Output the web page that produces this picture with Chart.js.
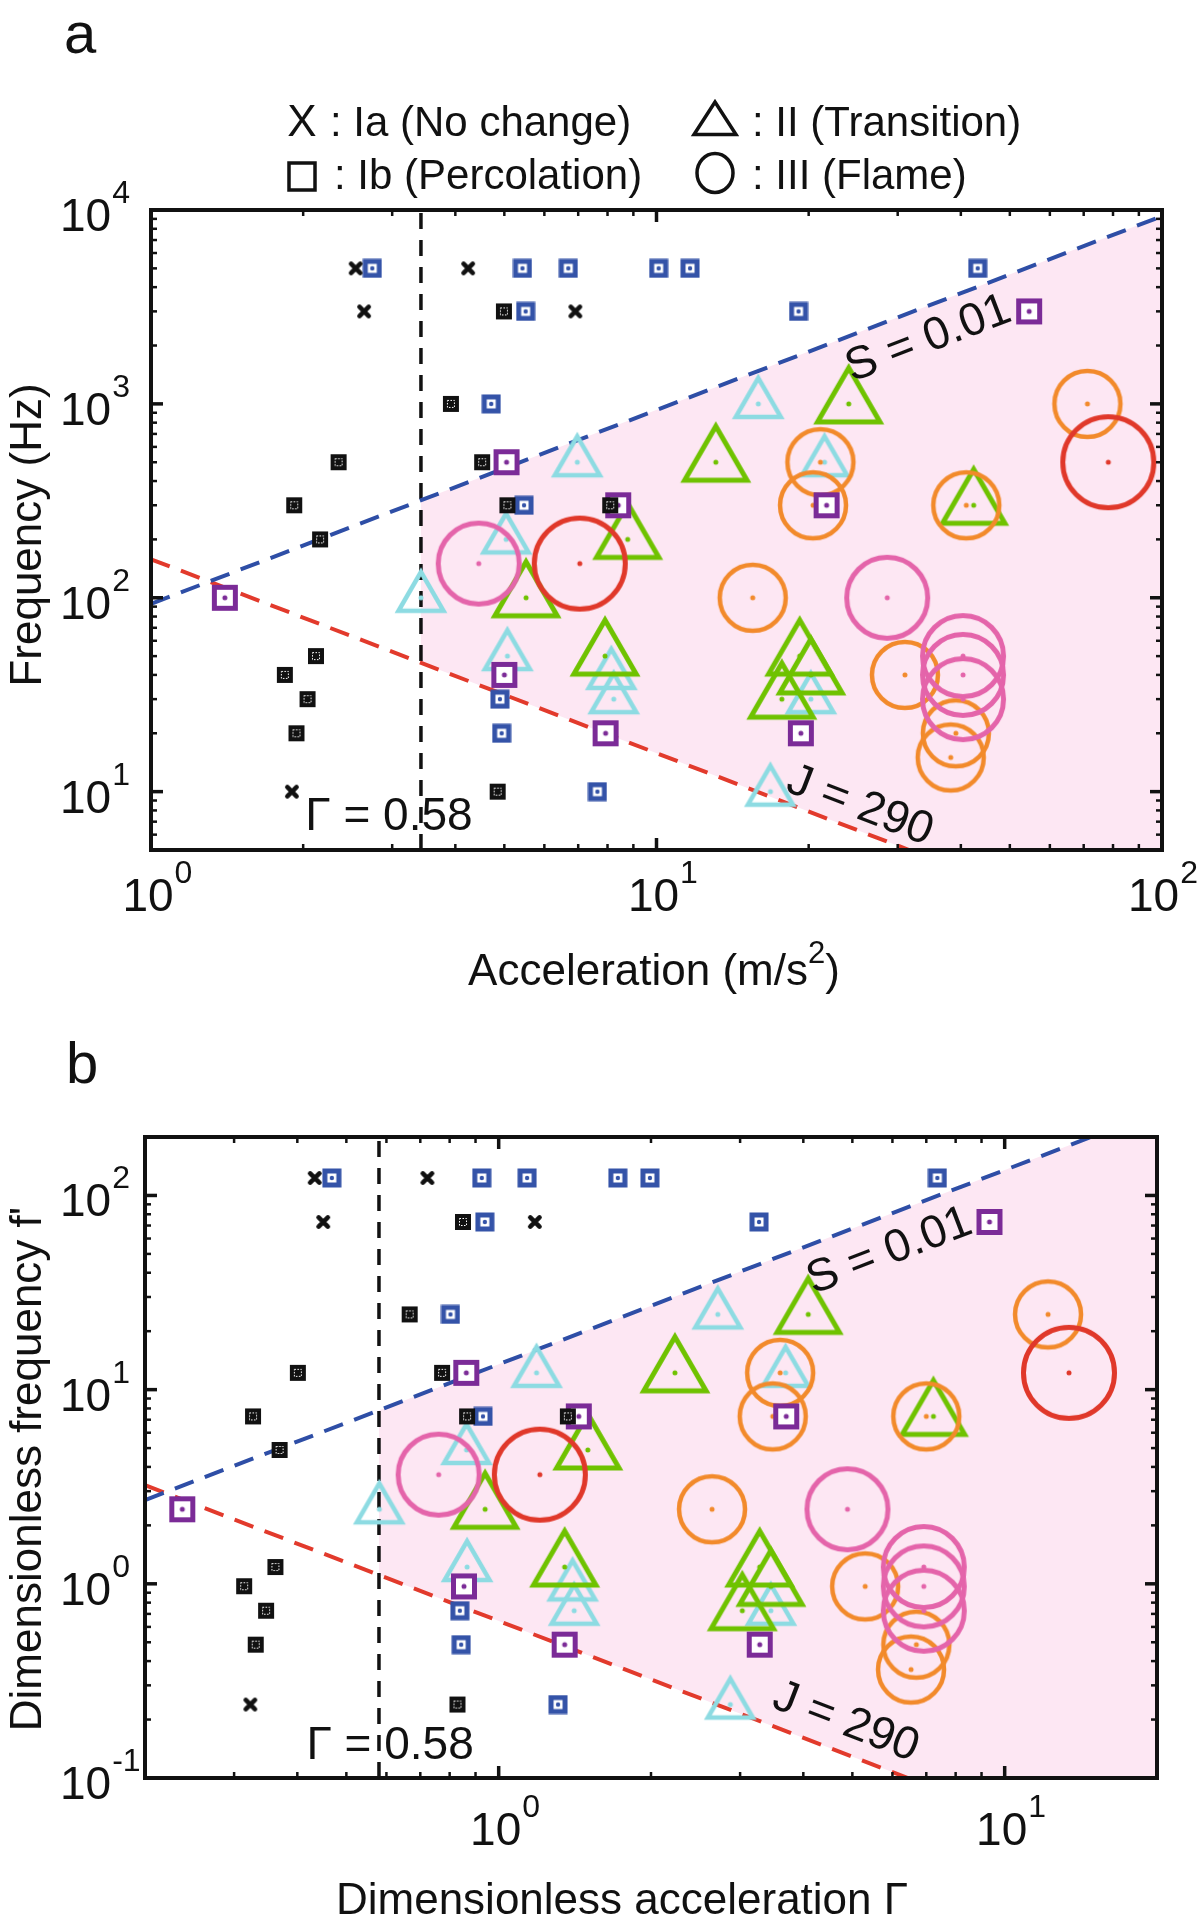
<!DOCTYPE html>
<html><head><meta charset="utf-8">
<script src="https://cdn.jsdelivr.net/npm/chart.js@4/dist/chart.umd.min.js"></script>
<style>
html,body{margin:0;padding:0;background:#fff;}
#wrap{position:relative;width:1200px;height:1928px;background:#fff;overflow:hidden;}
canvas{position:absolute;left:0;}
</style></head><body>
<div id="wrap">
<canvas id="ca" width="1200" height="1010" style="top:0px"></canvas>
<canvas id="cb" width="1200" height="964" style="top:964px"></canvas>
</div>
<script>
// ================= DATA =================
// Panel a : Acceleration (m/s^2) vs Frequency (Hz)
const aXRange = [1, 100];
const aYRange = [5, 10000];
const aXTickExp = [0, 1, 2];
const aYTickExp = [1, 2, 3, 4];
const aIa       = [[2.54,5000],[4.24,5000],[2.64,3000],[6.91,3000],[1.90,10]];
const aIbBlack  = [[4.99,3000],[3.92,1000],[2.35,500],[4.52,500],[1.92,300],[5.07,300],[8.1,300],[2.16,200],[2.12,50],[1.84,40],[2.04,30],[1.94,20],[4.85,10]];
const aIbBlue   = [[2.74,5000],[5.43,5000],[6.69,5000],[10.1,5000],[11.65,5000],[43.2,5000],[5.51,3000],[19.1,3000],[4.71,1000],[5.47,300],[4.9,30],[4.94,20],[7.64,10]];
const aIbPurple = [[54.6,3000],[5.05,500],[8.4,300],[21.7,300],[1.40,100],[5.0,40],[7.93,20],[19.3,20]];
const aIICyan   = [[15.9,1000],[6.97,500],[21.5,500],[5.04,200],[3.42,100],[5.07,50],[8.14,40],[8.23,30],[20.2,30],[16.8,10]];
const aIIGreen  = [[24.0,1000],[13.1,500],[42.4,300],[8.77,200],[5.52,100],[7.91,50],[19.2,50],[20.2,40],[17.7,30]];
const aIIIOrange= [[71.2,1000],[21.1,500],[20.4,300],[41.0,300],[15.5,100],[31.0,40],[39.1,20],[38.2,15]];
const aIIIPink  = [[4.45,150],[28.6,100],[40.4,50],[40.4,40],[40.4,30]];
const aIIIRed   = [[78.3,500],[7.05,150]];
const aSLine = [[1,93],[100,9300]];     // S = 0.01
const aJLine = [[1,158],[31.6,5]];      // J = 290
const aGamma = 3.42;                    // Γ = 0.58

// Panel b : Dimensionless acceleration Γ vs dimensionless frequency f'
const bXRange = [0.2, 20];
const bYRange = [0.1, 200];
const bXTickExp = [0, 1];
const bYTickExp = [-1, 0, 1, 2];
const bIa       = [[0.433,123],[0.723,123],[0.450,73],[1.179,73],[0.323,0.239]];
const bIbBlack  = [[0.850,73],[0.667,24.4],[0.401,12.2],[0.773,12.2],[0.327,7.28],[0.866,7.28],[1.37,7.28],[0.369,4.89],[0.362,1.22],[0.314,0.972],[0.347,0.727],[0.331,0.486],[0.829,0.239]];
const bIbBlue   = [[0.468,123],[0.926,123],[1.138,123],[1.72,123],[1.99,123],[7.36,123],[0.939,73],[3.27,73],[0.803,24.4],[0.931,7.28],[0.838,0.727],[0.843,0.486],[1.31,0.239]];
const bIbPurple = [[9.33,73],[0.863,12.2],[1.44,7.28],[3.70,7.28],[0.237,2.42],[0.854,0.97],[1.35,0.486],[3.28,0.486]];
const bIICyan   = [[2.71,24.4],[1.188,12.2],[3.69,12.2],[0.864,4.89],[0.581,2.42],[0.866,1.22],[1.40,0.97],[1.41,0.727],[3.45,0.727],[2.87,0.239]];
const bIIGreen  = [[4.09,24.4],[2.23,12.2],[7.23,7.28],[1.50,4.89],[0.94,2.42],[1.35,1.22],[3.28,1.22],[3.45,0.97],[3.03,0.727]];
const bIIIOrange= [[12.18,24.4],[3.60,12.2],[3.48,7.28],[7.0,7.28],[2.64,2.42],[5.30,0.97],[6.69,0.486],[6.53,0.362]];
const bIIIPink  = [[0.761,3.65],[4.89,2.42],[6.92,1.22],[6.92,0.97],[6.92,0.727]];
const bIIIRed   = [[13.4,12.2],[1.206,3.65]];
const bSLine = [[0.2,2.7],[14.8,200]];
const bJLine = [[0.2,3.22],[6.44,0.1]];
const bGamma = 0.58;

// Texts
const legendSymbols = ['X', 'Δ', '□', '○'];
const legendLabels = [': Ia (No change)', ': II (Transition)', ': Ib (Percolation)', ': III (Flame)'];
const noteTexts = ['S = 0.01', 'J = 290', 'Γ = 0.58'];
const aXTitle = [['Acceleration (m/s',0],['2',1],[')',0]];
const aYTitle = 'Frequency (Hz)';
const bXTitle = [['Dimensionless acceleration Γ',0]];
const bYTitle = "Dimensionless frequency f'";

// ================= STYLE / LAYOUT =================
const F = '"Liberation Sans", Arial, Helvetica, sans-serif';
const COL = {black:'#111111', blue:'#3453a8', purple:'#7b2b97', cyan:'#8ddbe2', green:'#6fc200',
  orange:'#f28a2b', pink:'#e464aa', red:'#e0382a', sLine:'#2e4ea6', jLine:'#e23a2c', fill:'#fde7f3'};
const TICKFONT = 46, SUPFONT = 32;

function mk(size, draw){ const c=document.createElement('canvas'); c.width=size; c.height=size; const g=c.getContext('2d'); draw(g,size/2); return c; }
function dot(g,c,color,r){ g.fillStyle=color; g.beginPath(); g.arc(c,c,r||2.5,0,Math.PI*2); g.fill(); }
function triMarker(color,r,lw){ const s=2*Math.ceil(r+lw+3); return mk(s,(g,c)=>{ g.strokeStyle=color; g.lineWidth=lw; g.lineJoin='miter'; g.beginPath(); for(let k=0;k<3;k++){ const an=-Math.PI/2+k*2*Math.PI/3; const px=c+r*Math.cos(an), py=c+r*Math.sin(an); if(k) g.lineTo(px,py); else g.moveTo(px,py);} g.closePath(); g.stroke(); dot(g,c,color); }); }
function circMarker(color,r,lw){ const s=2*Math.ceil(r+lw+2); return mk(s,(g,c)=>{ g.strokeStyle=color; g.lineWidth=lw; g.beginPath(); g.arc(c,c,r,0,Math.PI*2); g.stroke(); dot(g,c,color); }); }
const MK = {
  x: mk(20,(g,c)=>{ g.strokeStyle=COL.black; g.lineWidth=4.6; g.lineCap='round'; g.beginPath(); g.moveTo(c-4.6,c-4.6); g.lineTo(c+4.6,c+4.6); g.moveTo(c+4.6,c-4.6); g.lineTo(c-4.6,c+4.6); g.stroke(); }),
  sqBlack: mk(18,(g,c)=>{ g.fillStyle=COL.black; g.fillRect(c-8,c-8,16,16); g.strokeStyle='#fff'; g.lineWidth=1; g.setLineDash([1.5,1.5]); g.strokeRect(c-3.5,c-3.5,7,7); }),
  sqBlue: mk(20,(g,c)=>{ g.fillStyle=COL.blue; g.fillRect(c-9.5,c-9.5,19,19); g.fillStyle='#fff'; g.fillRect(c-4.5,c-4.5,9,9); dot(g,c,COL.blue,2.2); }),
  sqPurple: mk(30,(g,c)=>{ g.fillStyle='#fff'; g.fillRect(c-11,c-11,22,22); g.strokeStyle=COL.purple; g.lineWidth=5; g.strokeRect(c-10.5,c-10.5,21,21); dot(g,c,COL.purple,2.5); }),
  triCyan: triMarker(COL.cyan,26,4.5),
  triGreen: triMarker(COL.green,36,5),
  cOrange: circMarker(COL.orange,33,4.5),
  cPink: circMarker(COL.pink,40.5,5),
  cRed: circMarker(COL.red,45.5,5)
};

const layoutA = { pad:{left:151,right:38,top:210,bottom:160}, letter:['a',64,53], xTitlePos:[654,985], yTitlePos:[41,535],
  xLabelDy:61, yLabelX:60,
  legendSym:[[302,136],[715,136],[302,176],[715,173]], legendText:[[330,136],[752,136],[334,189],[752,189]],
  notes:[[24.4,1298],[17.9,10.1],[2.02,6.37]] };
const layoutB = { pad:{left:145,right:43,top:173,bottom:150}, letter:['b',66,119], xTitlePos:[622,950], yTitlePos:[41,505],
  xLabelDy:67, yLabelX:60, legendSym:null, legendText:null,
  notes:[[4.19,31.0],[3.44,0.232],[0.417,0.125]] };

// ================= HELPERS =================
function lineAt(line, x){ const [[x0,y0],[x1,y1]] = line; const t=(Math.log10(x)-Math.log10(x0))/(Math.log10(x1)-Math.log10(x0)); return Math.pow(10, Math.log10(y0)+t*(Math.log10(y1)-Math.log10(y0))); }
function lineXAt(line, y){ const [[x0,y0],[x1,y1]] = line; const t=(Math.log10(y)-Math.log10(y0))/(Math.log10(y1)-Math.log10(y0)); return Math.pow(10, Math.log10(x0)+t*(Math.log10(x1)-Math.log10(x0))); }
function fillPolygon(sLine,jLine,g,xr,yr){
  const pts=[[g,lineAt(jLine,g)],[g,lineAt(sLine,g)]];
  if (lineAt(sLine,xr[1])>yr[1]) { pts.push([lineXAt(sLine,yr[1]),yr[1]]); pts.push([xr[1],yr[1]]); }
  else pts.push([xr[1],lineAt(sLine,xr[1])]);
  pts.push([xr[1],yr[0]]);
  pts.push([lineXAt(jLine,yr[0]),yr[0]]);
  return pts;
}
const toXY = arr => arr.map(([x,y])=>({x,y}));

function buildPanel(canvasId, P, L){
  const sTopY = Math.min(P.yr[1], lineAt(P.s,P.xr[1]));
  const datasets = [
    {type:'line', data:toXY(fillPolygon(P.s,P.j,P.g,P.xr,P.yr)), fill:'shape', backgroundColor:COL.fill, borderWidth:0, pointRadius:0, order:100},
    {type:'line', data:toXY([[P.g,P.yr[0]],[P.g,P.yr[1]]]), fill:false, borderColor:COL.black, borderWidth:3.5, borderDash:[16,11], pointRadius:0, order:90},
    {type:'line', data:toXY([P.s[0],[lineXAt(P.s,sTopY), sTopY]]), fill:false, borderColor:COL.sLine, borderWidth:4, borderDash:[20,12], pointRadius:0, order:80},
    {type:'line', data:toXY(P.j), fill:false, borderColor:COL.jLine, borderWidth:4, borderDash:[20,12], pointRadius:0, order:80},
  ];
  const ms = [
    [P.cyan,MK.triCyan,60],[P.green,MK.triGreen,55],[P.orange,MK.cOrange,50],[P.pink,MK.cPink,45],[P.red,MK.cRed,40],
    [P.purple,MK.sqPurple,30],[P.blue,MK.sqBlue,25],[P.black,MK.sqBlack,20],[P.ia,MK.x,10]
  ];
  for (const [arr,img,ord] of ms) datasets.push({type:'scatter', data:toXY(arr), pointStyle:img, pointRadius:6, showLine:false, clip:false, order:ord});

  const deco = {
    id:'deco',
    afterDatasetsDraw(chart){
      const ctx=chart.ctx, xs=chart.scales.x, ys=chart.scales.y;
      const ang = line => Math.atan2(ys.getPixelForValue(line[1][1])-ys.getPixelForValue(line[0][1]), xs.getPixelForValue(line[1][0])-xs.getPixelForValue(line[0][0]));
      const angles=[ang(P.s), ang(P.j), 0];
      ctx.save(); ctx.fillStyle=COL.black; ctx.font='46px '+F; ctx.textAlign='left'; ctx.textBaseline='alphabetic';
      noteTexts.forEach((t,i)=>{ const [vx,vy]=L.notes[i]; ctx.save(); ctx.translate(xs.getPixelForValue(vx), ys.getPixelForValue(vy)); ctx.rotate(angles[i]); ctx.fillText(t,0,0); ctx.restore(); });
      ctx.restore();
    },
    afterDraw(chart){
      const ctx=chart.ctx, a=chart.chartArea, xs=chart.scales.x, ys=chart.scales.y;
      ctx.save(); ctx.strokeStyle=COL.black; ctx.lineCap='butt';
      const seg=(x1,y1,x2,y2)=>{ctx.beginPath();ctx.moveTo(x1,y1);ctx.lineTo(x2,y2);ctx.stroke();};
      const ticks=(lo,hi)=>{const out=[]; for(let e=Math.floor(Math.log10(lo)); e<=Math.ceil(Math.log10(hi)); e++) for(let m=1;m<10;m++){const v=m*Math.pow(10,e); if(v>=lo*0.999&&v<=hi*1.001) out.push([v,m===1]);} return out;};
      for (const [v,maj] of ticks(P.xr[0],P.xr[1])) { const px=xs.getPixelForValue(v); ctx.lineWidth=maj?3.5:2.5; const Ln=maj?12:6; seg(px,a.bottom,px,a.bottom-Ln); seg(px,a.top,px,a.top+Ln); }
      for (const [v,maj] of ticks(P.yr[0],P.yr[1])) { const py=ys.getPixelForValue(v); ctx.lineWidth=maj?3.5:2.5; const Ln=maj?12:6; seg(a.left,py,a.left+Ln,py); seg(a.right,py,a.right-Ln,py); }
      ctx.lineWidth=4; ctx.strokeRect(a.left,a.top,a.right-a.left,a.bottom-a.top);
      // tick labels
      ctx.fillStyle=COL.black; ctx.textAlign='left'; ctx.textBaseline='alphabetic';
      for (const e of P.xte) { const px=xs.getPixelForValue(Math.pow(10,e));
        ctx.font=TICKFONT+'px '+F; const wb=ctx.measureText('10').width;
        ctx.font=SUPFONT+'px '+F; const we=ctx.measureText(String(e)).width;
        let left = px-3-wb/2; if (left+wb+1+we > chart.width-2) left = chart.width-2-we-1-wb;
        ctx.font=TICKFONT+'px '+F; ctx.fillText('10', left, a.bottom+L.xLabelDy);
        ctx.font=SUPFONT+'px '+F; ctx.fillText(String(e), left+wb+1, a.bottom+L.xLabelDy-28); }
      for (const e of P.yte) { const py=ys.getPixelForValue(Math.pow(10,e)); ctx.font=TICKFONT+'px '+F; const wb=ctx.measureText('10').width;
        ctx.fillText('10', L.yLabelX, py+21); ctx.font=SUPFONT+'px '+F; ctx.fillText(String(e), L.yLabelX+wb+1, py-7); }
      // x title
      let total=0; const ws=[];
      for (const [t,sup] of P.xTitle){ ctx.font=(sup?'31px ':'44px ')+F; const w=ctx.measureText(t).width; ws.push(w); total+=w; }
      let x=L.xTitlePos[0]-total/2;
      P.xTitle.forEach(([t,sup],i)=>{ ctx.font=(sup?'31px ':'44px ')+F; ctx.fillText(t,x,sup?L.xTitlePos[1]-22:L.xTitlePos[1]); x+=ws[i]; });
      // y title
      ctx.save(); ctx.font='44px '+F; ctx.textAlign='center'; ctx.translate(L.yTitlePos[0],L.yTitlePos[1]); ctx.rotate(-Math.PI/2); ctx.fillText(P.yTitle,0,0); ctx.restore();
      // panel letter
      ctx.font='58px '+F; ctx.fillText(L.letter[0], L.letter[1], L.letter[2]);
      // legend
      if (L.legendSym) {
        ctx.lineWidth=3.5; ctx.strokeStyle=COL.black; ctx.lineJoin='miter';
        legendSymbols.forEach((s,i)=>{
          const [cx,cy]=L.legendSym[i];
          if (s==='X') { ctx.font='44px '+F; ctx.textAlign='center'; ctx.fillText('X', cx, cy); ctx.textAlign='left'; }
          else if (s==='Δ') { ctx.beginPath(); ctx.moveTo(cx, cy-34); ctx.lineTo(cx+21, cy-1.5); ctx.lineTo(cx-21, cy-1.5); ctx.closePath(); ctx.stroke(); }
          else if (s==='□') { ctx.strokeRect(cx-13, cy-13, 26, 27); }
          else { ctx.beginPath(); ctx.ellipse(cx, cy, 18, 19.5, 0, 0, Math.PI*2); ctx.stroke(); }
        });
        ctx.font='42px '+F;
        legendLabels.forEach((t,i)=>ctx.fillText(t, L.legendText[i][0], L.legendText[i][1]));
      }
      ctx.restore();
    }
  };

  return new Chart(document.getElementById(canvasId), {
    type:'scatter',
    data:{datasets},
    options:{
      responsive:false, animation:false, devicePixelRatio:1, events:[],
      layout:{padding:L.pad},
      scales:{
        x:{type:'logarithmic', min:P.xr[0], max:P.xr[1], display:false},
        y:{type:'logarithmic', min:P.yr[0], max:P.yr[1], display:false}
      },
      plugins:{legend:{display:false}, tooltip:{enabled:false}}
    },
    plugins:[deco]
  });
}

buildPanel('ca', {xr:aXRange, yr:aYRange, xte:aXTickExp, yte:aYTickExp, ia:aIa, black:aIbBlack, blue:aIbBlue, purple:aIbPurple,
  cyan:aIICyan, green:aIIGreen, orange:aIIIOrange, pink:aIIIPink, red:aIIIRed, s:aSLine, j:aJLine, g:aGamma, xTitle:aXTitle, yTitle:aYTitle}, layoutA);
buildPanel('cb', {xr:bXRange, yr:bYRange, xte:bXTickExp, yte:bYTickExp, ia:bIa, black:bIbBlack, blue:bIbBlue, purple:bIbPurple,
  cyan:bIICyan, green:bIIGreen, orange:bIIIOrange, pink:bIIIPink, red:bIIIRed, s:bSLine, j:bJLine, g:bGamma, xTitle:bXTitle, yTitle:bYTitle}, layoutB);
</script>
</body></html>
